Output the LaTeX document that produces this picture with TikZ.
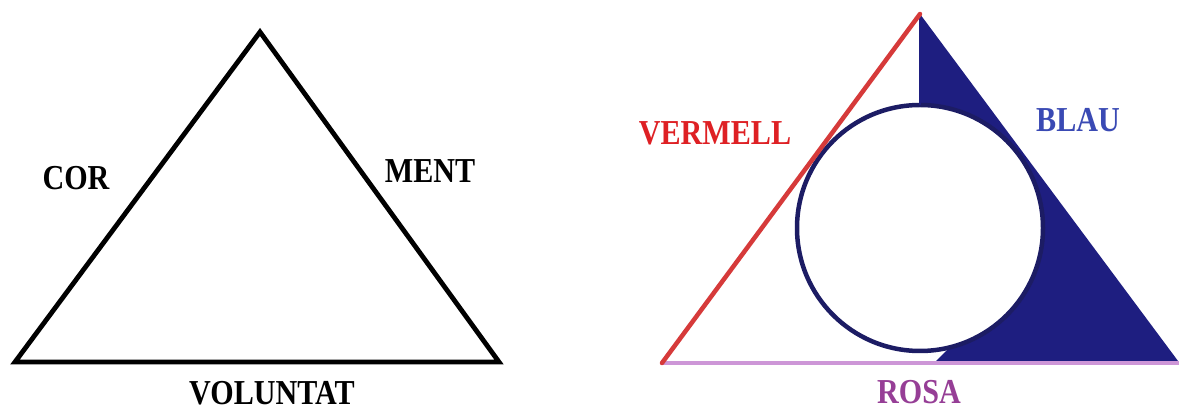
\documentclass[tikz,border=0pt]{standalone}
\usepackage{fontspec}
\usepackage{graphicx}
\setmainfont{Liberation Serif}
\usetikzlibrary{calc}
\definecolor{navyfill}{RGB}{30,30,128}
\definecolor{navyline}{RGB}{28,28,100}
\definecolor{redline}{RGB}{214,58,58}
\definecolor{redtext}{RGB}{222,32,36}
\definecolor{bluetext}{RGB}{58,74,180}
\definecolor{rosatext}{RGB}{150,62,150}
\definecolor{rosaline}{RGB}{205,150,215}
\tikzset{
  lab/.style={inner sep=0pt, anchor=base, font=\fontsize{35}{40}\selectfont\bfseries},
  blackline/.style={line width=4.8pt, line join=miter, black}
}
\newcommand{\sq}[1]{\scalebox{0.86}[1]{#1}}
\begin{document}
\begin{tikzpicture}[x=1pt,y=1pt]
\useasboundingbox (0,0) rectangle (1179,412);
\fill[white] (0,0) rectangle (1179,412);
% left triangle
\coordinate (LA) at (260,380);
\coordinate (LL) at (15,50);
\coordinate (LR) at (499,50);
\draw[blackline] (LA) -- (LL) -- (LR) -- cycle;
\node[lab] (cor) at (76,222) {\sq{COR}};
\node[lab] (ment) at (430,229) {\sq{MENT}};
\node[lab] (vol) at (272,7) {\sq{VOLUNTAT}};
% right triangle
\coordinate (RA) at (920,398);
\coordinate (RL) at (662,49);
\coordinate (RR) at (1181,47);
\coordinate (C) at (920,184);
\fill[navyfill] (RA) -- (RR) -- (935,50) -- ($(C)+(-76:123)$) arc[start angle=-76, end angle=90, radius=123] -- cycle;
\draw[navyline, line width=4.5pt] (C) circle[radius=123];
\draw[navyfill, line width=1.5pt] (RA) -- ($(C)+(0,123)$);
\draw[rosaline, line width=3.5pt] (RL) -- (1179,49);
\draw[redline, line width=4.5pt, line cap=round] (RL) -- (RA);
\node[lab, text=redtext] (verm) at (715,267) {\sq{VERMELL}};
\node[lab, text=bluetext] (blau) at (1078,280) {\sq{BLAU}};
\node[lab, text=rosatext] (rosa) at (919,8) {\sq{ROSA}};
\end{tikzpicture}
\end{document}
